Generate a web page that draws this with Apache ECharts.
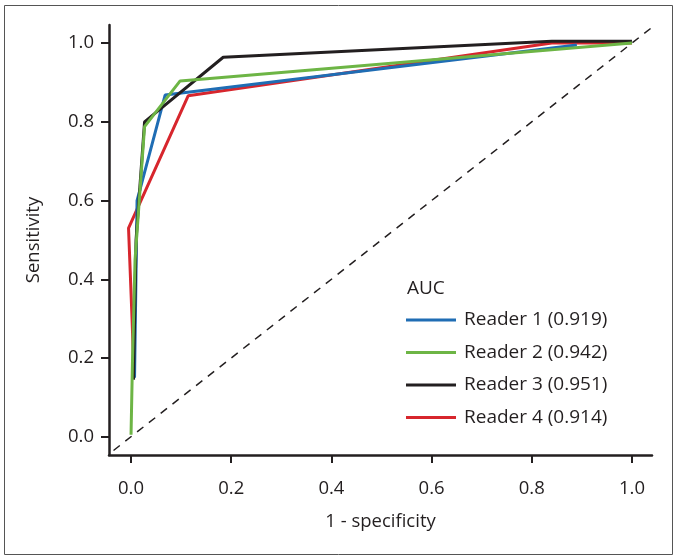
<!DOCTYPE html>
<html>
<head>
<meta charset="utf-8">
<script src="https://cdn.jsdelivr.net/npm/echarts@6/dist/echarts.min.js"></script>
<style>html,body{margin:0;padding:0;background:#fff}#c{width:677px;height:560px}</style>
</head>
<body>
<div id="c"></div>
<script>
// ---- data ----
const tickValues = [0, 0.2, 0.4, 0.6, 0.8, 1.0];
const seriesNames = ['Reader 1 (0.919)', 'Reader 2 (0.942)', 'Reader 3 (0.951)', 'Reader 4 (0.914)'];
const reader1X = [0.007, 0.012, 0.068, 0.89];
const reader1Y = [0.15, 0.60, 0.868, 0.995];
const reader2X = [0.0, 0.003, 0.008, 0.027, 0.098, 1.0];
const reader2Y = [0.005, 0.20, 0.45, 0.788, 0.904, 1.0];
const reader3X = [0.005, 0.01, 0.027, 0.184, 0.84, 1.0];
const reader3Y = [0.145, 0.50, 0.80, 0.964, 1.005, 1.005];
const reader4X = [0.006, 0.002, -0.005, 0.114, 0.84, 1.0];
const reader4Y = [0.155, 0.30, 0.53, 0.866, 1.0, 1.0];
const diagX = [-0.035, 1.04];
const diagY = [-0.035, 1.04];

const colors = {r1: '#1f6db4', r2: '#6db545', r3: '#231f20', r4: '#d7262d'};
const zip = (xs, ys) => xs.map((x, i) => [x, ys[i]]);
const FONT = 'Open Sans';

const chart = echarts.init(document.getElementById('c'), null, {renderer: 'canvas'});
const lineSeries = (name, xs, ys, color) => ({
  name, type: 'line', data: zip(xs, ys), symbol: 'none', smooth: false,
  lineStyle: {color, width: 3}, itemStyle: {color}, animation: false
});
chart.setOption({
  animation: false,
  textStyle: {fontFamily: FONT},
  grid: {left: 109, right: 25, top: 25, bottom: 105, containLabel: false},
  xAxis: {
    type: 'value', min: -0.044, max: 1.04,
    name: '1 - specificity', nameLocation: 'middle', nameGap: 57,
    nameTextStyle: {fontSize: 18.5, color: '#231f20', fontFamily: FONT},
    axisLine: {show: true, onZero: false, lineStyle: {color: '#231f20', width: 2.5}},
    axisTick: {show: true, customValues: tickValues, length: 8, lineStyle: {color: '#231f20', width: 2}},
    axisLabel: {customValues: tickValues, margin: 24, fontSize: 18.5, color: '#231f20', fontFamily: FONT,
      formatter: v => v.toFixed(1)},
    splitLine: {show: false}
  },
  yAxis: {
    type: 'value', min: -0.0465, max: 1.046,
    name: 'Sensitivity', nameLocation: 'middle', nameGap: 66, nameRotate: 90,
    nameTextStyle: {fontSize: 18.5, color: '#231f20', fontFamily: FONT},
    axisLine: {show: true, onZero: false, lineStyle: {color: '#231f20', width: 2.5}},
    axisTick: {show: true, customValues: tickValues, length: 8, lineStyle: {color: '#231f20', width: 2}},
    axisLabel: {customValues: tickValues, margin: 15, fontSize: 18.5, color: '#231f20', fontFamily: FONT,
      formatter: v => v.toFixed(1)},
    splitLine: {show: false}
  },
  legend: {
    data: seriesNames, orient: 'vertical', left: 401, top: 305,
    icon: 'rect', itemWidth: 50, itemHeight: 3, itemGap: 12.5,
    textStyle: {fontSize: 19, color: '#231f20', fontFamily: FONT, lineHeight: 20, padding: [0, 0, 0, 3]}
  },
  graphic: [
    {type: 'rect', shape: {x: 4.5, y: 5.5, width: 668, height: 549}, style: {fill: 'none', stroke: '#555', lineWidth: 1}, silent: true},
    {type: 'text', left: 407, top: 279, style: {text: 'AUC', font: '19px "Open Sans"', fill: '#231f20'}}
  ],
  series: [
    {type: 'line', data: zip(diagX, diagY), symbol: 'none', silent: true,
      lineStyle: {color: '#231f20', width: 1.5, type: [8, 7]}, z: 1},
    lineSeries(seriesNames[3], reader4X, reader4Y, colors.r4),
    lineSeries(seriesNames[0], reader1X, reader1Y, colors.r1),
    lineSeries(seriesNames[2], reader3X, reader3Y, colors.r3),
    lineSeries(seriesNames[1], reader2X, reader2Y, colors.r2)
  ]
});
</script>
</body>
</html>
